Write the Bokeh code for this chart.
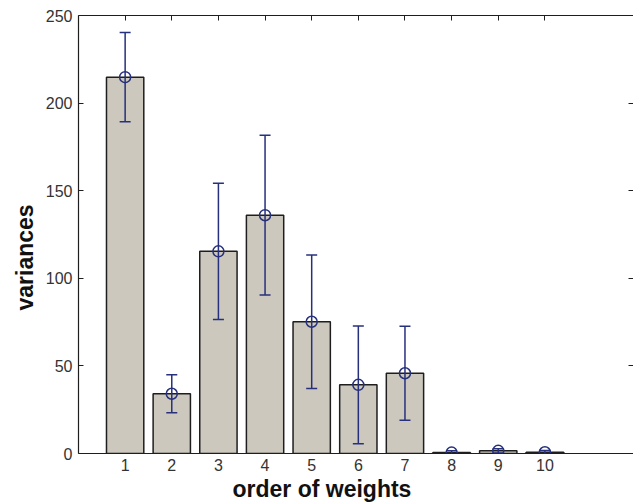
from bokeh.plotting import figure
from bokeh.models import ColumnDataSource, Whisker, TeeHead, LinearAxis, FixedTicker, Range1d, Title
from bokeh.embed import file_html
from bokeh.resources import INLINE

# data
order = [1, 2, 3, 4, 5, 6, 7, 8, 9, 10]
variances = [214.8, 34.1, 115.4, 136.0, 75.2, 39.2, 45.8, 0.5, 1.5, 0.7]
errors = [25.5, 10.9, 38.9, 45.6, 38.1, 33.6, 26.8, 1.0, 1.2, 1.0]
y_ticks = [0, 50, 100, 150, 200, 250]

lower = [v - e for v, e in zip(variances, errors)]
upper = [v + e for v, e in zip(variances, errors)]
src = ColumnDataSource(dict(x=order, y=variances, lo=lower, hi=upper))

FONT = "Liberation Sans"
NAVY = "#27307c"

p = figure(width=633, height=503, output_backend="svg", toolbar_location=None,
           x_range=Range1d(0, 11.9), y_range=Range1d(0, 250),
           x_axis_location=None, y_axis_location=None,
           min_border_left=78, min_border_right=0, min_border_top=15, min_border_bottom=50)
p.title.visible = False
p.outline_line_color = None
p.xgrid.visible = False
p.ygrid.visible = False
p.background_fill_color = "white"
p.border_fill_color = "white"

p.vbar(x="x", top="y", width=0.8, bottom=0, source=src,
       fill_color="#ccc8bd", line_color="#1e1e1e", line_width=1.5)

w = Whisker(source=src, base="x", lower="lo", upper="hi", level="overlay",
            line_color=NAVY, line_width=1.5,
            upper_head=TeeHead(size=11, line_color=NAVY, line_width=1.5),
            lower_head=TeeHead(size=11, line_color=NAVY, line_width=1.5))
p.add_layout(w)
p.scatter(x="x", y="y", source=src, marker="circle", size=11,
          fill_color=None, line_color=NAVY, line_width=1.5)


def style(ax, labels=True, tick_in=5):
    ax.axis_line_color = "#1e1e1e"
    ax.axis_line_width = 1.2
    ax.major_tick_in = tick_in
    ax.major_tick_out = 0
    ax.minor_tick_line_color = None
    ax.major_tick_line_color = "#1e1e1e"
    ax.major_label_text_font = FONT
    if labels:
        ax.major_label_text_font_size = "16px"
        ax.major_label_text_color = "#333333"
        ax.major_label_standoff = 5
    else:
        ax.major_label_text_font_size = "0px"
        ax.major_label_text_color = None
        ax.major_label_standoff = 0


xb = LinearAxis(ticker=FixedTicker(ticks=order))
style(xb, True, 0)
p.add_layout(xb, "below")

xt = LinearAxis(ticker=FixedTicker(ticks=order))
style(xt, False, 5)
p.add_layout(xt, "above")

yl = LinearAxis(ticker=FixedTicker(ticks=y_ticks))
style(yl, True, 5)
yl.major_label_standoff = 6
p.add_layout(yl, "left")

yr = LinearAxis(ticker=FixedTicker(ticks=y_ticks))
style(yr, False, 5)
yr.axis_line_color = None
p.add_layout(yr, "right")

xlab = Title(text="order of weights", align="left", offset=154,
             text_font=FONT, text_font_size="23px", text_font_style="bold",
             text_color="#111111", standoff=0)
p.add_layout(xlab, "below")

ylab = Title(text="variances", align="left", offset=143,
             text_font=FONT, text_font_size="23px", text_font_style="bold",
             text_color="#111111", standoff=10)
p.add_layout(ylab, "left")

open("out.html", "w").write(file_html(p, INLINE))
